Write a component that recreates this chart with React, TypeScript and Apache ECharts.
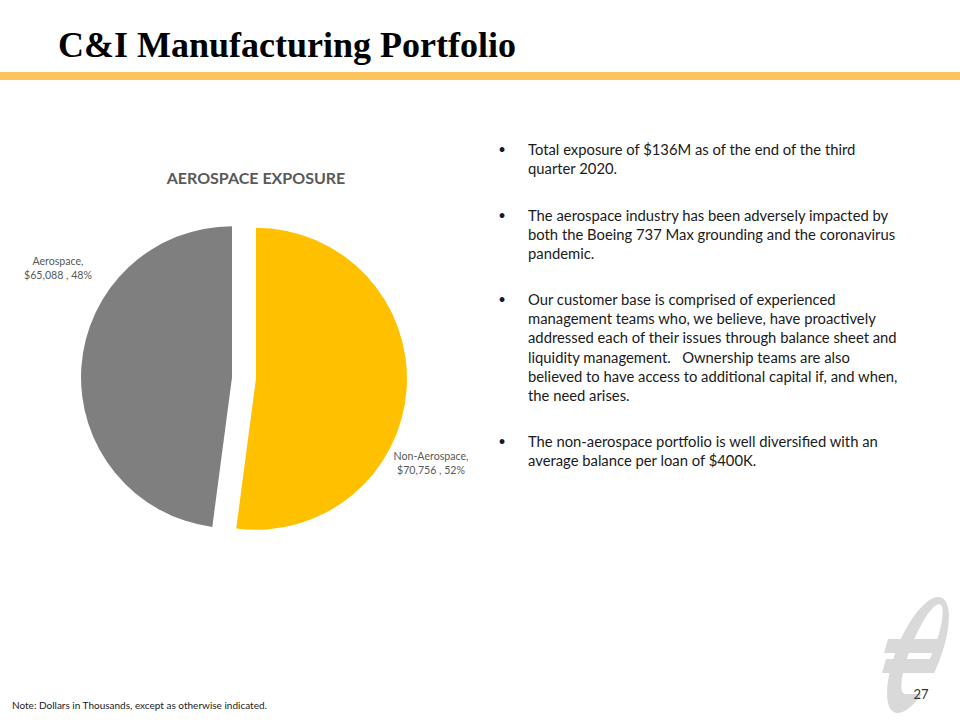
import React, { useEffect, useRef } from 'react';
import * as echarts from 'echarts';

const categories = ['Non-Aerospace', 'Aerospace'];
const values = [70756, 65088];
const sliceColors = ['#FFC000', '#7F7F7F'];

const pageTitle = 'C&I Manufacturing Portfolio';
const chartTitle = 'AEROSPACE EXPOSURE';
const bulletParagraphs: string[][] = [
  ['Total exposure of $136M as of the end of the third', 'quarter 2020.'],
  [
    'The aerospace industry has been adversely impacted by',
    'both the Boeing 737 Max grounding and the coronavirus',
    'pandemic.',
  ],
  [
    'Our customer base is comprised of experienced',
    'management teams who, we believe, have proactively',
    'addressed each of their issues through balance sheet and',
    'liquidity management.   Ownership teams are also',
    'believed to have access to additional capital if, and when,',
    'the need arises.',
  ],
  [
    'The non-aerospace portfolio is well diversified with an',
    'average balance per loan of $400K.',
  ],
];
const paragraphTops = [149, 215, 299, 441];
const footNote = 'Note: Dollars in Thousands, except as otherwise indicated.';
const pageNumber = '27';

export default function App() {
  const ref = useRef<HTMLDivElement>(null);
  useEffect(() => {
    document.body.style.margin = '0';
    const chart = echarts.init(ref.current!, null, { renderer: 'svg' });
    const textFont = 'Lato, "Open Sans", sans-serif';
    const total = values.reduce((a, b) => a + b, 0);
    const labelSpots = [
      { x: 431, y: 463 },
      { x: 58, y: 268 },
    ];
    const graphics: any[] = [
      {
        type: 'text',
        left: 58,
        top: 27,
        style: {
          text: pageTitle,
          font: 'bold 36px "Liberation Serif", "Times New Roman", serif',
          fill: '#000',
        },
      },
      { type: 'rect', shape: { x: 0, y: 72, width: 960, height: 8 }, style: { fill: '#FBC45C' } },
      {
        type: 'text',
        x: 256,
        y: 177,
        style: {
          text: chartTitle,
          font: 'bold 16px ' + textFont,
          fill: '#595959',
          align: 'center',
          verticalAlign: 'middle',
        },
      },
    ];
    categories.forEach((name, i) => {
      graphics.push({
        type: 'text',
        x: labelSpots[i].x,
        y: labelSpots[i].y,
        style: {
          text: `${name},\n$${values[i].toLocaleString('en-US')} , ${Math.round((values[i] / total) * 100)}%`,
          font: '10.6px ' + textFont,
          lineHeight: 14,
          fill: '#595959',
          align: 'center',
          verticalAlign: 'middle',
        },
      });
    });
    bulletParagraphs.forEach((lines, i) => {
      graphics.push({
        type: 'text',
        x: 502,
        y: paragraphTops[i],
        style: { text: '•', font: '13px ' + textFont, fill: '#1a1a1a', align: 'center', verticalAlign: 'middle' },
      });
      graphics.push({
        type: 'text',
        x: 528,
        y: paragraphTops[i] - 9.6,
        style: {
          text: lines.join('\n'),
          font: '14.8px ' + textFont,
          lineHeight: 19.2,
          fill: '#1a1a1a',
          align: 'left',
          verticalAlign: 'top',
        },
      });
    });
    const rot = -22 * Math.PI / 180;
    graphics.push(
      { type: 'ellipse', x: 918, y: 655, rotation: rot, shape: { cx: 0, cy: 0, rx: 22, ry: 62 }, style: { fill: '#D9D9D9' } },
      { type: 'ellipse', x: 922, y: 649, rotation: rot, shape: { cx: 0, cy: 0, rx: 11, ry: 48 }, style: { fill: '#fff' } },
      {
        type: 'polygon',
        shape: { points: [[907, 673], [958, 673], [958, 694], [904, 694]] },
        style: { fill: '#fff' },
      },
      {
        type: 'polygon',
        shape: { points: [[884, 653], [888, 639], [945, 639], [941, 653]] },
        style: { fill: '#D9D9D9' },
      },
      {
        type: 'polygon',
        shape: { points: [[882, 673], [886, 659], [935, 659], [931, 673]] },
        style: { fill: '#D9D9D9' },
      },
      {
        type: 'text',
        x: 921,
        y: 694,
        style: { text: pageNumber, font: '13px ' + textFont, fill: '#333', align: 'center', verticalAlign: 'middle' },
      },
      {
        type: 'text',
        x: 12,
        y: 705,
        style: { text: footNote, font: '10px ' + textFont, fill: '#1a1a1a', align: 'left', verticalAlign: 'middle' },
      }
    );

    chart.setOption({
      animation: false,
      graphic: graphics,
      series: [
        {
          type: 'pie',
          center: [244, 378],
          radius: [0, 151],
          startAngle: 90,
          clockwise: true,
          selectedMode: 'multiple',
          selectedOffset: 12,
          emphasis: { disabled: true },
          label: { show: false },
          labelLine: { show: false },
          data: categories.map((name, i) => ({
            name,
            value: values[i],
            selected: true,
            itemStyle: { color: sliceColors[i] },
            select: { itemStyle: { color: sliceColors[i] } },
          })),
        },
      ],
    });
    return () => chart.dispose();
  }, []);
  return <div ref={ref} style={{ width: 960, height: 720 }} />;
}
